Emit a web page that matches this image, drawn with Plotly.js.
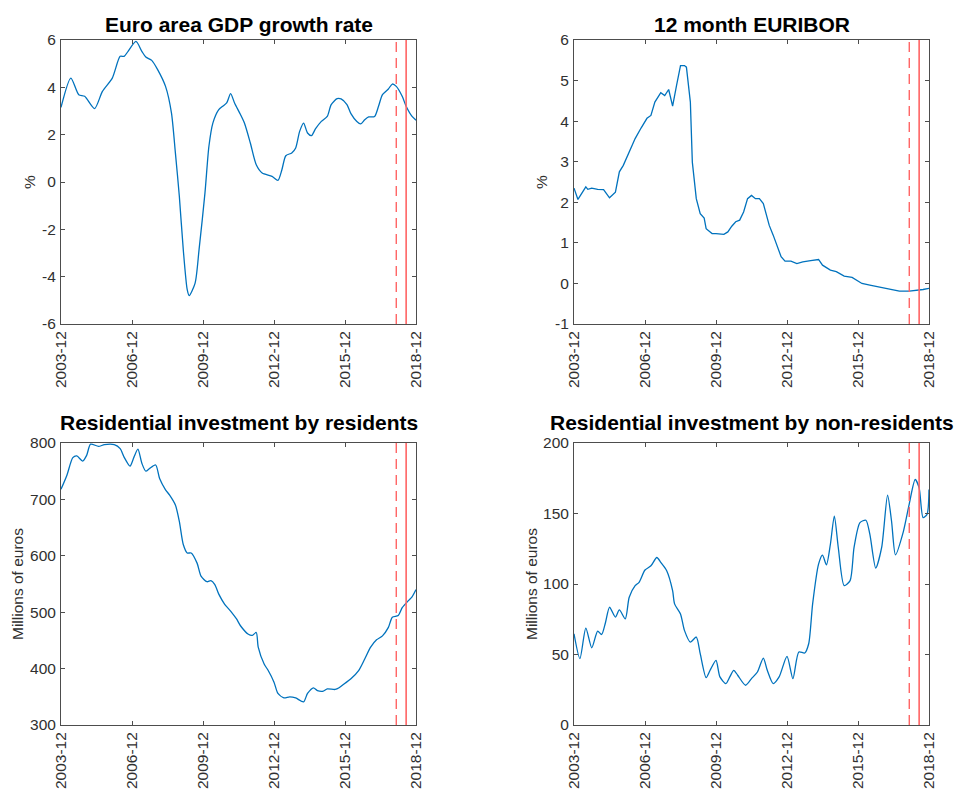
<!DOCTYPE html>
<html>
<head>
<meta charset="utf-8">
<script src="https://cdn.plot.ly/plotly-3.0.1.min.js"></script>
<style>
  html, body { margin: 0; padding: 0; background: #fff; }
  #chart { width: 956px; height: 789px; }
</style>
</head>
<body>
<div id="chart"></div>
<script>
// x values are months counted from 2003-12
const tickMonths = [0, 36, 72, 108, 144, 180];
const tickLabels = ['2003-12', '2006-12', '2009-12', '2012-12', '2015-12', '2018-12'];

// y tick values per panel (labels keep a plain hyphen for negatives)
const gdpTicks = [-6, -4, -2, 0, 2, 4, 6];
const euriborTicks = [-1, 0, 1, 2, 3, 4, 5, 6];
const residentsTicks = [300, 400, 500, 600, 700, 800];
const nonResidentsTicks = [0, 50, 100, 150, 200];

// marker months for the two vertical reference lines (2018-02 and 2018-07)
const markerDashed = 170;
const markerSolid = 175;

// Euro area GDP growth rate, %
const gdpMonth = [0, 5, 9, 12, 17, 21, 26, 30, 32, 34, 38, 41, 43, 46, 49, 53, 56, 58, 60, 62, 64, 65, 68, 70, 73, 75, 77, 80, 82, 84, 86, 88, 91, 93, 96, 99, 102, 107, 110, 112, 114, 117, 119, 121, 123, 125, 127, 129, 132, 135, 137, 140, 142, 145, 147, 150, 152, 154, 156, 159, 161, 163, 166, 168, 170, 173, 175, 178, 180];
const gdpValue = [3.15, 4.39, 3.69, 3.62, 3.10, 3.83, 4.39, 5.31, 5.31, 5.52, 5.94, 5.52, 5.28, 5.14, 4.75, 4.04, 2.92, 1.23, -0.60, -2.86, -4.55, -4.80, -4.27, -2.86, -0.46, 1.51, 2.49, 3.06, 3.20, 3.34, 3.73, 3.34, 2.85, 2.49, 1.65, 0.73, 0.38, 0.24, 0.07, 0.52, 1.11, 1.23, 1.44, 2.14, 2.49, 2.07, 1.96, 2.24, 2.56, 2.77, 3.27, 3.52, 3.51, 3.27, 2.89, 2.56, 2.46, 2.63, 2.75, 2.77, 3.20, 3.69, 3.93, 4.14, 4.04, 3.62, 3.20, 2.77, 2.61];

// 12 month EURIBOR, %
const euriborMonth = [0, 2, 6, 7, 9, 12, 15, 18, 21, 23, 25, 28, 31, 34, 37, 39, 41, 44, 46, 48, 50, 52, 54, 56, 57, 59, 60, 62, 64, 66, 67, 70, 72, 76, 78, 80, 82, 84, 86, 88, 90, 92, 94, 96, 99, 101, 105, 107, 110, 113, 116, 120, 124, 126, 130, 133, 137, 141, 146, 150, 155, 160, 165, 170, 174, 177, 180];
const euriborValue = [2.35, 2.07, 2.38, 2.32, 2.35, 2.32, 2.31, 2.11, 2.25, 2.75, 2.91, 3.24, 3.57, 3.83, 4.07, 4.14, 4.47, 4.70, 4.63, 4.78, 4.37, 4.88, 5.37, 5.37, 5.33, 4.47, 2.99, 2.09, 1.72, 1.61, 1.35, 1.23, 1.23, 1.21, 1.27, 1.41, 1.52, 1.56, 1.76, 2.09, 2.17, 2.09, 2.09, 1.97, 1.43, 1.19, 0.66, 0.55, 0.55, 0.49, 0.53, 0.56, 0.59, 0.45, 0.33, 0.29, 0.18, 0.15, 0.00, -0.04, -0.09, -0.14, -0.19, -0.19, -0.17, -0.15, -0.12];

// Residential investment by residents, millions of euros
const residentsMonth = [0, 3, 6, 8, 11, 13, 15, 19, 22, 27, 30, 32, 35, 37, 39, 41, 43, 45, 48, 50, 53, 55, 58, 60, 62, 64, 66, 69, 71, 74, 76, 78, 80, 83, 86, 89, 91, 95, 97, 99, 100, 103, 105, 108, 110, 113, 116, 119, 123, 125, 128, 130, 133, 135, 139, 141, 144, 147, 151, 154, 157, 160, 163, 166, 168, 171, 173, 176, 178, 180];
const residentsValue = [718, 743, 774, 777, 768, 778, 798, 794, 797, 797, 790, 775, 759, 775, 789, 764, 750, 755, 761, 737, 717, 708, 690, 661, 620, 605, 605, 587, 564, 554, 556, 549, 532, 514, 502, 488, 476, 461, 459, 464, 438, 408, 397, 376, 356, 348, 350, 348, 341, 356, 366, 361, 360, 364, 363, 366, 374, 382, 397, 417, 438, 451, 458, 473, 491, 494, 508, 520, 527, 540];

// Residential investment by non-residents, millions of euros
const nonResidentsMonth = [0, 3, 6, 9, 12, 14, 16, 18, 21, 23, 26, 28, 31, 33, 36, 39, 42, 44, 47, 50, 51, 54, 56, 59, 62, 64, 67, 69, 72, 74, 77, 79, 81, 83, 87, 90, 93, 96, 98, 101, 104, 108, 111, 114, 117, 119, 121, 124, 126, 128, 130, 132, 134, 137, 140, 142, 145, 148, 150, 153, 156, 159, 161, 163, 167, 170, 173, 175, 177, 179, 180];
const nonResidentsValue = [64.7, 47.1, 68.7, 54.8, 66.6, 64.2, 72.9, 83.5, 76.5, 81.6, 75.3, 90.6, 98.8, 101.2, 109.9, 112.9, 118.8, 115.3, 109.4, 95.3, 85.9, 78.8, 67.1, 58.8, 62.4, 50.6, 33.6, 38.8, 45.9, 34.1, 29.4, 34.1, 38.8, 35.3, 28.2, 32.9, 37.6, 47.5, 38.8, 29.4, 34.1, 48.7, 32.9, 51.8, 51.1, 57.6, 85.9, 114.1, 120.5, 113.6, 128.2, 148.2, 125.9, 98.8, 102.4, 125.9, 143.5, 145.2, 135.3, 111.3, 125.9, 163.1, 144.7, 120.7, 137.2, 156.9, 174.1, 168.2, 147.1, 149.4, 167.1];

const FONT = 'Liberation Sans, Arial, Helvetica, sans-serif';
const AXIS_COLOR = '#4d4d4d';
const TEXT_COLOR = '#303030';
const LINE_BLUE = '#0072BD';
const RED = '#ff6464';

function series(x, y, xa, ya, smooth) {
  return {
    type: 'scatter', mode: 'lines', x: x, y: y, xaxis: xa, yaxis: ya,
    line: { color: LINE_BLUE, width: 1.3, shape: smooth ? 'spline' : 'linear', smoothing: 0.7 },
    hoverinfo: 'skip', showlegend: false
  };
}

const data = [
  series(gdpMonth, gdpValue, 'x', 'y', true),
  series(euriborMonth, euriborValue, 'x2', 'y2', false),
  series(residentsMonth, residentsValue, 'x3', 'y3', true),
  series(nonResidentsMonth, nonResidentsValue, 'x4', 'y4', true)
];

const frame = {
  ticks: 'inside', ticklen: 4, tickcolor: AXIS_COLOR, tickwidth: 1,
  showline: true, linecolor: AXIS_COLOR, linewidth: 1, mirror: 'ticks',
  showgrid: false, zeroline: false,
  tickfont: { family: FONT, size: 15.5, color: TEXT_COLOR }
};

function xAxis(domain, anchor) {
  return Object.assign({
    domain: domain, anchor: anchor, range: [0, 180], autorange: false,
    tickmode: 'array', tickvals: tickMonths, ticktext: tickLabels, tickangle: -90
  }, frame);
}
function yAxis(domain, anchor, ticks) {
  return Object.assign({
    domain: domain, anchor: anchor, range: [ticks[0], ticks[ticks.length - 1]], autorange: false,
    tickmode: 'array', tickvals: ticks, ticktext: ticks.map(v => String(v)),
    ticklabelstandoff: 1
  }, frame);
}

const W = 956, H = 789;
const colL = [61 / W, 416 / W];
const colR = [574 / W, 929 / W];
const rowT = [(H - 324) / H, (H - 40) / H];
const rowB = [(H - 725) / H, (H - 443) / H];

function markers(xa, ya) {
  return [
    { type: 'line', xref: xa, yref: ya + ' domain', x0: markerDashed, x1: markerDashed, y0: 0, y1: 1,
      line: { color: RED, width: 1.4, dash: '10px,6px' } },
    { type: 'line', xref: xa, yref: ya + ' domain', x0: markerSolid, x1: markerSolid, y0: 0, y1: 1,
      line: { color: RED, width: 1.6 } }
  ];
}

function title(text, xc, yc) {
  return { text: '<b>' + text + '</b>', xref: 'paper', yref: 'paper', x: xc / W, y: (H - yc) / H,
    xanchor: 'center', yanchor: 'middle', showarrow: false,
    font: { family: FONT, size: 21, color: '#000' } };
}
function yTitle(text, xc, yc) {
  return { text: text, xref: 'paper', yref: 'paper', x: xc / W, y: (H - yc) / H,
    xanchor: 'center', yanchor: 'middle', showarrow: false, textangle: -90,
    font: { family: FONT, size: 15.5, color: TEXT_COLOR } };
}

const layout = {
  width: W, height: H,
  margin: { l: 0, r: 0, t: 0, b: 0 },
  paper_bgcolor: '#fff', plot_bgcolor: '#fff',
  showlegend: false,
  xaxis: xAxis(colL, 'y'),
  yaxis: yAxis(rowT, 'x', gdpTicks),
  xaxis2: xAxis(colR, 'y2'),
  yaxis2: yAxis(rowT, 'x2', euriborTicks),
  xaxis3: xAxis(colL, 'y3'),
  yaxis3: yAxis(rowB, 'x3', residentsTicks),
  xaxis4: xAxis(colR, 'y4'),
  yaxis4: yAxis(rowB, 'x4', nonResidentsTicks),
  shapes: [].concat(markers('x', 'y'), markers('x2', 'y2'), markers('x3', 'y3'), markers('x4', 'y4')),
  annotations: [
    title('Euro area GDP growth rate', 238.5, 25),
    title('12 month EURIBOR', 751.5, 25),
    title('Residential investment by residents', 238.5, 422),
    title('Residential investment by non-residents', 751.5, 422),
    yTitle('%', 29, 182),
    yTitle('%', 541, 182),
    yTitle('Millions of euros', 17, 584),
    yTitle('Millions of euros', 531, 584)
  ]
};

Plotly.newPlot('chart', data, layout, { staticPlot: true, displayModeBar: false });
</script>
</body>
</html>
